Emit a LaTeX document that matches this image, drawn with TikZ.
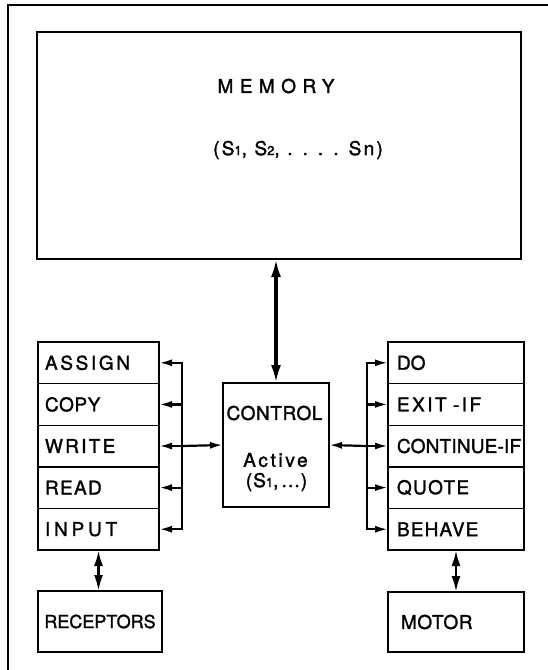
\documentclass[tikz,border=0pt]{standalone}
\usepackage{fontspec}
\setmainfont{TeX Gyre Heros}[FakeBold=1.5]
\usetikzlibrary{arrows.meta, positioning}
\newcommand{\spc}[1]{\addfontfeature{LetterSpace=#1}}
\newcommand{\dg}[1]{{\fontsize{13}{13}\selectfont #1}}

\begin{document}
\begin{tikzpicture}[x=1pt, y=-1pt, >={Latex[length=13pt, width=7pt]},
                    font=\fontsize{19}{22}\selectfont,
                    box/.style={draw, line width=1.4pt, inner sep=0pt, outer sep=0pt},
                    lrow/.style={box, minimum width=121pt, minimum height=41.6pt, text width=107pt, align=left, inner xsep=7pt},
                    rrow/.style={box, minimum width=136pt, minimum height=41.6pt, text width=118pt, align=left, inner xsep=9pt},
                    bus/.style={line width=2.2pt},
                    link/.style={line width=2.6pt, >={Latex[length=16pt, width=9pt]}, <->},
                    mainlink/.style={line width=3.2pt, >={Latex[length=18pt, width=10pt]}, <->}]
    \useasboundingbox (0,0) rectangle (548,670);

    % Frame
    \draw[line width=1.2pt] (8,670) -- (8,5) -- (548,5);

    % Memory
    \node[box, minimum width=484pt, minimum height=227pt] (mem) at (279,145.5) {};
    \node (memname) at (276,86) {\spc{34}MEMORY};
    \node (memlist) at (298,150) {\spc{12}(S\dg{1}, S\dg{2}, . . . . Sn)};

    % Control
    \node[box, minimum width=106pt, minimum height=124pt] (ctrl) at (276,445) {};
    \node (ctrlname) at (274.5,413) {\spc{3}CONTROL};
    \node (ctrlact) at (275.5,460) {\spc{14}Active};
    \node (ctrllist) at (276.5,482) {\spc{6}(S\dg{1},\,...)};

    % Left stack
    \node[lrow] (assign) at (98.5,362.8) {\spc{14}ASSIGN};
    \node[lrow, below=0pt of assign] (copy) {\spc{3}COPY};
    \node[lrow, below=0pt of copy] (write) {\spc{12}WRITE};
    \node[lrow, below=0pt of write] (read) {\spc{7}READ};
    \node[lrow, below=0pt of read] (input) {\spc{20}INPUT};

    % Right stack
    \node[rrow] (do) at (456,362.8) {DO};
    \node[rrow, below=0pt of do] (exitif) {\spc{13}EXIT -IF};
    \node[rrow, below=0pt of exitif] (contif) {\mbox{\spc{1}CONTINUE-IF}};
    \node[rrow, below=0pt of contif] (quote) {\spc{7}QUOTE};
    \node[rrow, below=0pt of quote] (behave) {\spc{6}BEHAVE};

    % Receptors and motor
    \node[box, minimum width=124pt, minimum height=61pt, font=\fontsize{18}{21}\selectfont] (recep) at (100,621.5) {RECEPTORS};
    \node[box, minimum width=136pt, minimum height=60pt, text width=110pt, align=left, inner xsep=13pt] (motor) at (456,622) {\spc{3}MOTOR};

    % Buses
    \coordinate (lb1) at ([xshift=23pt]assign.east);
    \coordinate (lb2) at ([xshift=23pt]copy.east);
    \coordinate (lb3) at ([xshift=23pt]write.east);
    \coordinate (lb4) at ([xshift=23pt]read.east);
    \coordinate (lb5) at ([xshift=23pt]input.east);

    \coordinate (rb1) at ([xshift=-21pt]do.west);
    \coordinate (rb2) at ([xshift=-21pt]exitif.west);
    \coordinate (rb3) at ([xshift=-21pt]contif.west);
    \coordinate (rb4) at ([xshift=-21pt]quote.west);
    \coordinate (rb5) at ([xshift=-21pt]behave.west);

    \draw[bus, <->] (assign.east) -- (lb1) -- (lb5) -- (input.east);
    \draw[bus, ->] (lb2) -- (copy.east);
    \draw[bus, ->] (lb3) -- (write.east);
    \draw[bus, ->] (lb4) -- (read.east);
    \draw[bus, ->] (lb3) -- (ctrl.west);

    \draw[bus, <->] (do.west) -- (rb1) -- (rb5) -- (behave.west);
    \draw[bus, ->] (rb2) -- (exitif.west);
    \draw[bus, ->] (rb3) -- (contif.west);
    \draw[bus, ->] (rb4) -- (quote.west);
    \draw[bus, ->] (rb3) -- (ctrl.east);

    % Vertical links
    \draw[mainlink] (ctrl.north |- mem.south) -- (ctrl.north);
    \draw[link] (input.south) -- (input.south |- recep.north);
    \draw[link] (behave.south) -- (behave.south |- motor.north);
\end{tikzpicture}
\end{document}
